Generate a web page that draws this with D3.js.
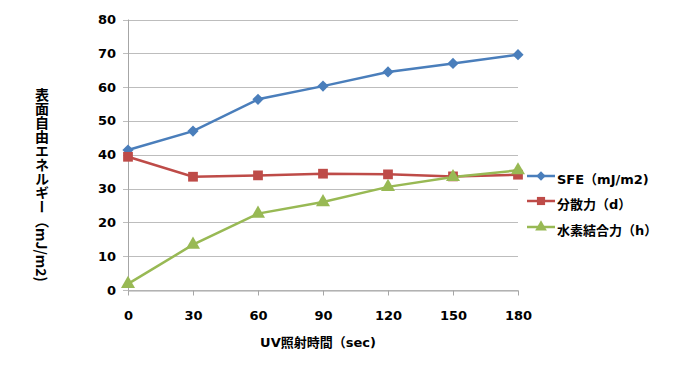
<!DOCTYPE html>
<html>
<head>
<meta charset="utf-8">
<script src="https://cdn.jsdelivr.net/npm/d3@7"></script>
<style>
  body { margin: 0; background: #fff; }
  text { font-family: "DejaVu Sans", "Noto Sans CJK JP", sans-serif; font-weight: bold; fill: #000; }
</style>
</head>
<body>
<svg width="692" height="385"></svg>
<script>
// data
const times = [0, 30, 60, 90, 120, 150, 180];
const sfe = [41.4, 47.0, 56.4, 60.3, 64.5, 67.0, 69.6];
const dispersion = [39.4, 33.5, 33.9, 34.4, 34.2, 33.6, 34.1];
const hydrogen = [1.8, 13.4, 22.6, 26.0, 30.5, 33.4, 35.4];
const yTicks = [0, 10, 20, 30, 40, 50, 60, 70, 80];
const seriesNames = ["SFE（mJ/m2)", "分散力（d）", "水素結合力（h）"];

const colors = ["#4A7EBB", "#BE4B48", "#98B954"];
const shapes = [d3.symbolDiamond2, d3.symbolSquare, d3.symbolTriangle];
const sizes = [80, 95, 85];

const margin = { top: 19.5, left: 128, right: 174, bottom: 95 };
const width = 692, height = 385;

const svg = d3.select("svg");

const x = d3.scalePoint()
  .domain(times)
  .range([margin.left, width - margin.right]);

const y = d3.scaleLinear()
  .domain([0, 80])
  .range([height - margin.bottom, margin.top]);

// gridlines
svg.append("g")
  .selectAll("line")
  .data(yTicks)
  .enter().append("line")
  .attr("x1", margin.left - 5)
  .attr("x2", width - margin.right)
  .attr("y1", d => Math.round(y(d)) + 0.5)
  .attr("y2", d => Math.round(y(d)) + 0.5)
  .attr("stroke", "#BDBDBD")
  .attr("stroke-width", 1);

// y axis line
svg.append("line")
  .attr("x1", margin.left + 0.5).attr("x2", margin.left + 0.5)
  .attr("y1", y(80)).attr("y2", y(0))
  .attr("stroke", "#A6A6A6");

// x axis
const xAxis = svg.append("g")
  .attr("transform", `translate(0,${Math.round(y(0)) + 0.5})`)
  .call(d3.axisBottom(x).tickSize(5).tickPadding(15).tickSizeOuter(0));
xAxis.select(".domain").attr("stroke", "#A6A6A6");
xAxis.selectAll(".tick line").attr("stroke", "#A6A6A6");
xAxis.selectAll("text")
  .style("font-family", "'DejaVu Sans', sans-serif")
  .style("font-weight", "bold")
  .style("font-size", "13px").attr("fill", "#000");

// y tick labels
svg.append("g")
  .selectAll("text")
  .data(yTicks)
  .enter().append("text")
  .attr("x", 116)
  .attr("y", d => y(d))
  .attr("dy", "0.35em")
  .attr("text-anchor", "end")
  .style("font-size", "13px")
  .text(d => d);

// series
const allSeries = [sfe, dispersion, hydrogen];
const line = d3.line().x((d, i) => x(times[i])).y(d => y(d));

allSeries.forEach((vals, k) => {
  svg.append("path")
    .datum(vals)
    .attr("fill", "none")
    .attr("stroke", colors[k])
    .attr("stroke-width", 2.5)
    .attr("d", line);
});
allSeries.forEach((vals, k) => {
  svg.append("g")
    .selectAll("path")
    .data(vals)
    .enter().append("path")
    .attr("transform", (d, i) => `translate(${x(times[i])},${y(d)})`)
    .attr("d", d3.symbol().type(shapes[k]).size(sizes[k]))
    .attr("fill", colors[k]);
});

// legend
const legendY = [176, 201, 227];
const legend = svg.append("g");
seriesNames.forEach((name, k) => {
  legend.append("line")
    .attr("x1", 527).attr("x2", 555)
    .attr("y1", legendY[k]).attr("y2", legendY[k])
    .attr("stroke", colors[k]).attr("stroke-width", 2.5);
  legend.append("path")
    .attr("transform", `translate(541,${legendY[k]})`)
    .attr("d", d3.symbol().type(shapes[k]).size(sizes[k] * 0.7))
    .attr("fill", colors[k]);
  legend.append("text")
    .attr("x", 557)
    .attr("y", legendY[k] + 3)
    .attr("dy", "0.35em")
    .style("font-size", "13px")
    .text(name);
});

// axis titles
svg.append("text")
  .attr("x", 318)
  .attr("y", 342)
  .attr("dy", "0.35em")
  .attr("text-anchor", "middle")
  .style("font-size", "13px")
  .text("UV照射時間（sec)");

svg.append("text")
  .attr("x", 42)
  .attr("y", 88)
  .style("writing-mode", "vertical-rl")
  .style("font-family", "'Noto Sans CJK JP', sans-serif")
  .style("font-size", "14px")
  .text("表面自由エネルギー（mJ/m2)");
</script>
</body>
</html>
